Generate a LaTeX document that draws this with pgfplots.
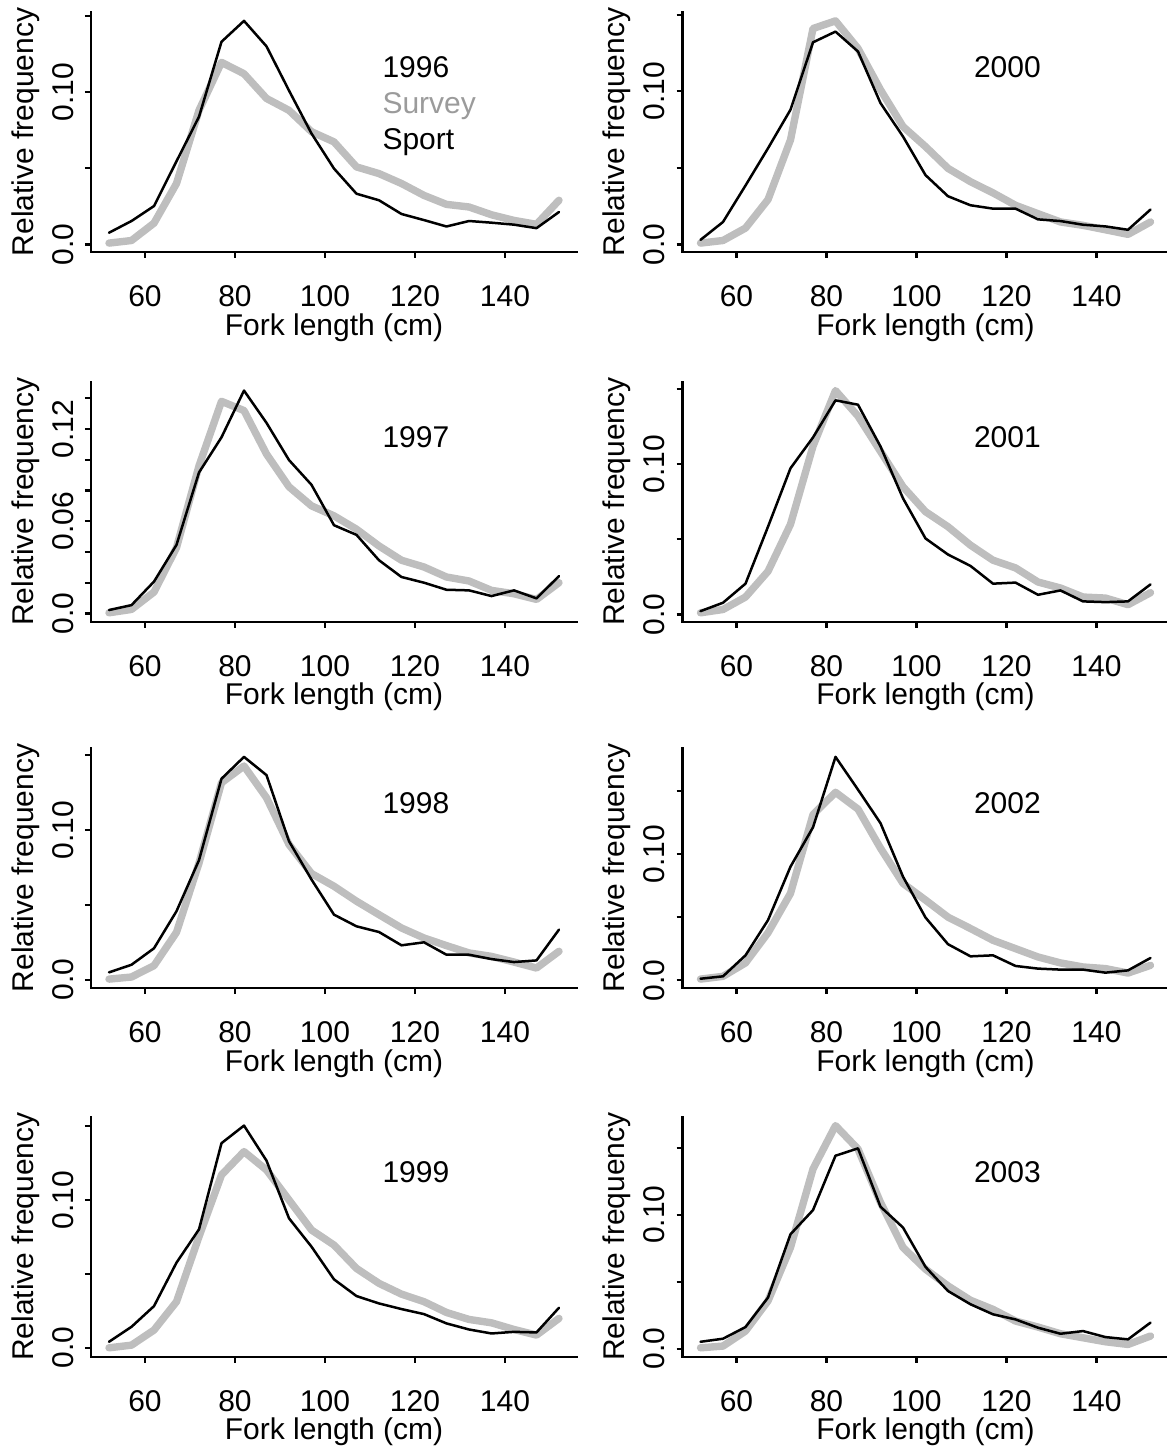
\documentclass[border=0pt]{standalone}
\usepackage{pgfplots}
\pgfplotsset{compat=1.18}
\usepackage{pgfplotstable}
\usepackage{fontspec}
\setmainfont{Liberation Sans}
\definecolor{survey}{RGB}{190,190,190}
\definecolor{surveytext}{RGB}{155,155,155}

% x = fork length (cm), su = survey, sp = sport
\pgfplotstableread{
x su sp
52 0.0009 0.0077
57 0.0026 0.0154
62 0.0140 0.0252
67 0.0400 0.0546
72 0.0880 0.0838
77 0.1195 0.1330
82 0.1120 0.1467
87 0.0958 0.1300
92 0.0880 0.1010
97 0.0740 0.0728
102 0.0673 0.0498
107 0.0509 0.0333
112 0.0465 0.0290
117 0.0400 0.0200
122 0.0322 0.0160
127 0.0263 0.0118
132 0.0246 0.0154
137 0.0195 0.0143
142 0.0158 0.0130
147 0.0132 0.0107
152 0.0290 0.0213
}\tabA
\pgfplotstableread{
x su sp
52 0.0009 0.0030
57 0.0026 0.0147
62 0.0107 0.0385
67 0.0293 0.0628
72 0.0683 0.0880
77 0.1410 0.1320
82 0.1460 0.1390
87 0.1280 0.1260
92 0.1010 0.0923
97 0.0770 0.0705
102 0.0639 0.0453
107 0.0497 0.0315
112 0.0410 0.0256
117 0.0337 0.0234
122 0.0256 0.0234
127 0.0201 0.0164
132 0.0147 0.0153
137 0.0125 0.0129
142 0.0096 0.0118
147 0.0066 0.0096
152 0.0147 0.0228
}\tabE
\pgfplotstableread{
x su sp
52 0.0004 0.0022
57 0.0026 0.0054
62 0.0139 0.0207
67 0.0428 0.0446
72 0.0960 0.0917
77 0.1380 0.1146
82 0.1320 0.1450
87 0.1037 0.1240
92 0.0824 0.0998
97 0.0700 0.0837
102 0.0635 0.0574
107 0.0548 0.0511
112 0.0439 0.0346
117 0.0346 0.0237
122 0.0302 0.0200
127 0.0237 0.0154
132 0.0211 0.0150
137 0.0150 0.0113
142 0.0128 0.0150
147 0.0091 0.0098
152 0.0200 0.0243
}\tabB
\pgfplotstableread{
x su sp
52 0.0011 0.0022
57 0.0033 0.0078
62 0.0116 0.0205
67 0.0287 0.0584
72 0.0600 0.0973
77 0.1120 0.1178
82 0.1490 0.1425
87 0.1320 0.1396
92 0.1085 0.1118
97 0.0850 0.0773
102 0.0684 0.0506
107 0.0584 0.0399
112 0.0461 0.0323
117 0.0361 0.0205
122 0.0310 0.0212
127 0.0216 0.0131
132 0.0176 0.0160
137 0.0116 0.0087
142 0.0109 0.0082
147 0.0065 0.0087
152 0.0145 0.0200
}\tabF
\pgfplotstableread{
x su sp
52 0.0004 0.0049
57 0.0018 0.0100
62 0.0094 0.0210
67 0.0317 0.0458
72 0.0780 0.0799
77 0.1317 0.1344
82 0.1429 0.1490
87 0.1217 0.1368
92 0.0904 0.0926
97 0.0710 0.0670
102 0.0625 0.0435
107 0.0525 0.0357
112 0.0435 0.0319
117 0.0346 0.0230
122 0.0279 0.0250
127 0.0228 0.0167
132 0.0179 0.0167
137 0.0156 0.0138
142 0.0118 0.0118
147 0.0078 0.0129
152 0.0190 0.0335
}\tabC
\pgfplotstableread{
x su sp
52 0.0010 0.0013
57 0.0032 0.0032
62 0.0138 0.0198
67 0.0376 0.0476
72 0.0688 0.0899
77 0.1310 0.1210
82 0.1487 0.1767
87 0.1354 0.1508
92 0.1045 0.1243
97 0.0767 0.0820
102 0.0635 0.0497
107 0.0500 0.0286
112 0.0410 0.0190
117 0.0317 0.0198
122 0.0251 0.0114
127 0.0185 0.0093
132 0.0138 0.0085
137 0.0106 0.0085
142 0.0093 0.0061
147 0.0058 0.0079
152 0.0119 0.0177
}\tabG
\pgfplotstableread{
x su sp
52 0.0000 0.0041
57 0.0018 0.0142
62 0.0120 0.0282
67 0.0312 0.0576
72 0.0752 0.0801
77 0.1169 0.1384
82 0.1327 0.1503
87 0.1203 0.1266
92 0.1000 0.0876
97 0.0797 0.0684
102 0.0695 0.0463
107 0.0537 0.0350
112 0.0436 0.0300
117 0.0363 0.0262
122 0.0312 0.0228
127 0.0239 0.0165
132 0.0192 0.0124
137 0.0169 0.0097
142 0.0124 0.0108
147 0.0086 0.0104
152 0.0199 0.0271
}\tabD
\pgfplotstableread{
x su sp
52 0.0007 0.0052
57 0.0020 0.0075
62 0.0132 0.0162
67 0.0357 0.0382
72 0.0756 0.0855
77 0.1342 0.1035
82 0.1666 0.1441
87 0.1491 0.1496
92 0.1092 0.1060
97 0.0756 0.0905
102 0.0594 0.0611
107 0.0469 0.0431
112 0.0362 0.0332
117 0.0294 0.0257
122 0.0207 0.0219
127 0.0162 0.0157
132 0.0112 0.0112
137 0.0082 0.0132
142 0.0052 0.0087
147 0.0032 0.0070
152 0.0095 0.0195
}\tabH

\pgfplotsset{
  panel/.style={
    anchor=south west,
    scale only axis, width=243pt, height=120pt,
    xmin=48, xmax=156,
    enlarge y limits={rel=0.04},
    axis x line*=bottom, axis y line*=left,
    axis line style={-, line width=1.1pt, line cap=rect},
    tick align=outside, major tick length=3pt,
    every tick/.style={black, line width=1.1pt},
    xtick={60,80,100,120,140},
    ytick={0,0.05,0.10,0.15},
    yticklabels={0.0,,0.10,},
    /pgf/number format/assume math mode=true,
    xticklabel style={anchor=base, inner sep=0pt, yshift=-24.2pt},
    yticklabel style={xshift=-6pt, rotate=90, anchor=base, inner sep=0pt},
    clip=false,
  },
  su/.style={line width=3.7pt, color=survey, line join=round, line cap=round, mark=none},
  sp/.style={line width=1.25pt, black, line join=round, line cap=round, mark=none},
}
\newcommand{\panellabels}[1]{%
  \node[xshift=-28.8pt, rotate=90, anchor=base] at (rel axis cs:0,0.5) {Relative frequency};
  \node[yshift=-41.6pt, anchor=base] at (rel axis cs:0.5,0) {Fork length (cm)};
  \node[anchor=base west, inner sep=0pt] at (rel axis cs:0.599,0.725) {#1};
}

\begin{document}
\begin{tikzpicture}[font=\fontsize{15}{18}\selectfont]
% left column
\begin{axis}[panel, at={(45.5pt,597.5pt)}]
  \addplot[su] table[x=x,y=su] {\tabA};
  \addplot[sp] table[x=x,y=sp] {\tabA};
  \panellabels{1996}
  \node[anchor=base west, inner sep=0pt, text=surveytext] at (rel axis cs:0.599,0.575) {Survey};
  \node[anchor=base west, inner sep=0pt] at (rel axis cs:0.599,0.429) {Sport};
\end{axis}
\begin{axis}[panel, at={(45.5pt,412.65pt)},
    ytick={0,0.02,0.04,0.06,0.08,0.10,0.12,0.14},
    yticklabels={0.0,,,0.06,,,0.12,}]
  \addplot[su] table[x=x,y=su] {\tabB};
  \addplot[sp] table[x=x,y=sp] {\tabB};
  \panellabels{1997}
\end{axis}
\begin{axis}[panel, at={(45.5pt,229.5pt)}]
  \addplot[su] table[x=x,y=su] {\tabC};
  \addplot[sp] table[x=x,y=sp] {\tabC};
  \panellabels{1998}
\end{axis}
\begin{axis}[panel, at={(45.5pt,45.15pt)}]
  \addplot[su] table[x=x,y=su] {\tabD};
  \addplot[sp] table[x=x,y=sp] {\tabD};
  \panellabels{1999}
\end{axis}
% right column
\begin{axis}[panel, at={(341.25pt,597.5pt)}]
  \addplot[su] table[x=x,y=su] {\tabE};
  \addplot[sp] table[x=x,y=sp] {\tabE};
  \panellabels{2000}
\end{axis}
\begin{axis}[panel, at={(341.25pt,412.65pt)}]
  \addplot[su] table[x=x,y=su] {\tabF};
  \addplot[sp] table[x=x,y=sp] {\tabF};
  \panellabels{2001}
\end{axis}
\begin{axis}[panel, at={(341.25pt,229.5pt)}]
  \addplot[su] table[x=x,y=su] {\tabG};
  \addplot[sp] table[x=x,y=sp] {\tabG};
  \panellabels{2002}
\end{axis}
\begin{axis}[panel, at={(341.25pt,45.15pt)}]
  \addplot[su] table[x=x,y=su] {\tabH};
  \addplot[sp] table[x=x,y=sp] {\tabH};
  \panellabels{2003}
\end{axis}
\pgfresetboundingbox
\useasboundingbox (0,0) rectangle (583.5pt,723.5pt);
\end{tikzpicture}
\end{document}
